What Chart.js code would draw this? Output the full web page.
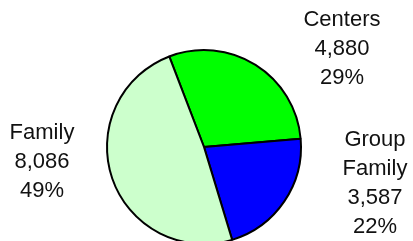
<!DOCTYPE html>
<html>
<head>
<meta charset="utf-8">
<script src="https://cdn.jsdelivr.net/npm/chart.js@4.4.1/dist/chart.umd.min.js"></script>
<style>
    html, body { margin: 0; padding: 0; background: #fff; overflow: hidden; }
    #wrap { position: relative; width: 413px; height: 260px; }
</style>
</head>
<body>
<div id="wrap"><canvas id="pieChart"></canvas></div>
<script>
// Enrollment by care type
const categories = ['Centers', 'Group Family', 'Family'];
const labelLines = [['Centers'], ['Group', 'Family'], ['Family']];
const enrollment = [4880, 3587, 8086];
const sliceColors = ['#00ff00', '#0000ff', '#ccffcc'];

// where each text block sits (centre x, first baseline y)
const labelAnchors = [
    { x: 342, y: 26 },
    { x: 375, y: 146 },
    { x: 42, y: 139 }
];

const total = enrollment.reduce((a, b) => a + b, 0);

const sliceLabels = {
    id: 'sliceLabels',
    afterDatasetsDraw(chart) {
        const ctx = chart.ctx;
        ctx.save();
        ctx.font = '22px "Liberation Sans", Arial, sans-serif';
        ctx.fillStyle = '#111';
        ctx.textAlign = 'center';
        ctx.textBaseline = 'alphabetic';
        enrollment.forEach((value, i) => {
            const lines = labelLines[i].concat([
                value.toLocaleString('en-US'),
                Math.round(value / total * 100) + '%'
            ]);
            lines.forEach((line, j) => {
                ctx.fillText(line, labelAnchors[i].x, labelAnchors[i].y + j * 29);
            });
        });
        ctx.restore();
    }
};

new Chart(document.getElementById('pieChart').getContext('2d'), {
    type: 'pie',
    data: {
        labels: categories,
        datasets: [{
            data: enrollment,
            backgroundColor: sliceColors,
            borderColor: '#000',
            borderWidth: 2
        }]
    },
    options: {
        responsive: true,
        maintainAspectRatio: false,
        animation: false,
        rotation: -21,
        layout: {
            padding: { top: 49, bottom: 15, left: 0, right: 5 }
        },
        plugins: {
            legend: { display: false },
            tooltip: { enabled: false }
        }
    },
    plugins: [sliceLabels]
});
</script>
</body>
</html>
